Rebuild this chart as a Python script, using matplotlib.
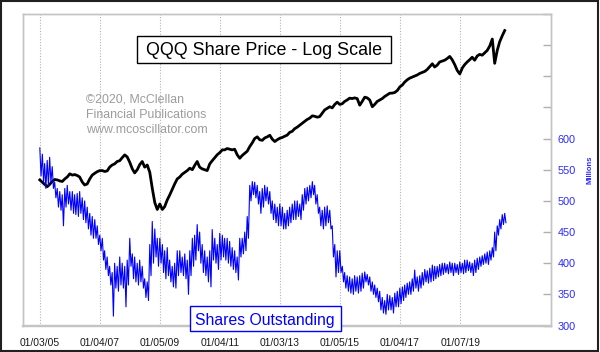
import matplotlib
matplotlib.use('Agg')
import matplotlib.pyplot as plt
import numpy as np
import pandas as pd
import matplotlib.dates as mdates
from matplotlib.patches import Rectangle
from matplotlib.ticker import NullLocator, FixedLocator

plt.rcParams['font.family'] = ['Liberation Sans', 'DejaVu Sans']

# ---------------- data (monthly, Jan 2005 .. Jul 2020) ----------------
start_month = '2005-01-01'

# QQQ share price (USD), monthly
price = [
    40, 38.8, 37.8, 36.7, 37.8, 39.2, 40.2, 40, 39.5, 39.2, 40.5, 41.5,          # 2005
    43.2, 42.5, 42.8, 42.3, 41.5, 39, 37.5, 38, 40.5, 42.5, 43.5, 44.4,          # 2006
    45, 45, 44.5, 44.8, 47, 48.3, 49, 50.5, 51, 53, 54.9, 53.5,                  # 2007
    50, 46, 43.7, 45.5, 48.5, 50.5, 47, 48.3, 44, 36, 30, 27.5,                  # 2008
    29.5, 27.5, 28.5, 31, 33, 35.5, 38, 40.5, 41.5, 43, 44, 45,                  # 2009
    46.4, 45.5, 48, 50.5, 47, 46, 45.5, 45, 49, 51, 53, 55,                      # 2010
    56.5, 58.5, 58.5, 59.5, 59, 58.5, 59, 55, 52.6, 54.5, 56, 57.5,              # 2011
    61, 64, 67.5, 69, 66.5, 66, 68, 69, 70.4, 67, 65, 66.5,                      # 2012
    67.8, 68.5, 69.5, 70.5, 73, 74, 76.5, 78, 80, 82, 84, 86,                    # 2013
    87.5, 90, 89.5, 88.5, 89.1, 93, 97, 99, 101, 99.5, 104, 107,                 # 2014
    104, 105, 108, 110, 112.6, 112, 113, 112, 103, 108, 114, 113,                # 2015
    110, 101, 104, 108, 110, 112, 115, 117.5, 119.9, 120, 121, 124,              # 2016
    129.8, 133, 138, 142, 145, 147, 149, 151, 154, 156, 158, 162,                # 2017
    168, 174, 167, 171, 178, 180, 182, 186, 191, 183, 172, 160,                  # 2018
    153, 165, 172, 178, 183, 189, 182, 192, 196, 194, 200, 206,                  # 2019
    218, 238, 175, 206, 230, 248, 265,                                           # 2020
]

# QQQ shares outstanding (millions): monthly high and low
shares_hi = [
    585, 575, 560, 565, 570, 555, 530, 520, 515, 510, 520, 525,   # 2005
    515, 515, 510, 512, 515, 505, 500, 490, 480, 475, 470, 460,   # 2006
    445, 440, 420, 410, 395, 385, 400, 395, 410, 400, 395, 405,   # 2007
    440, 415, 410, 400, 405, 395, 375, 370, 430, 467, 455, 440,   # 2008
    440, 430, 420, 425, 405, 395, 400, 420, 420, 410, 415, 405,   # 2009
    420, 440, 445, 462, 450, 430, 420, 410, 420, 454, 440, 430,   # 2010
    448, 445, 440, 440, 435, 425, 420, 410, 440, 440, 450, 475,   # 2011
    525, 531, 530, 525, 515, 520, 525, 522, 515, 500, 495, 490,   # 2012
    495, 490, 480, 485, 490, 495, 500, 500, 495, 510, 520, 522,   # 2013
    525, 531, 525, 510, 490, 485, 490, 492, 485, 460, 430, 420,   # 2014
    420, 395, 385, 380, 378, 375, 380, 378, 380, 384, 386, 382,   # 2015
    378, 370, 365, 360, 355, 345, 340, 350, 348, 345, 352, 355,   # 2016
    360, 362, 365, 368, 370, 375, 389, 378, 380, 385, 390, 388,   # 2017
    392, 397, 395, 395, 398, 400, 400, 398, 402, 400, 400, 398,   # 2018
    402, 400, 405, 405, 402, 400, 405, 408, 410, 412, 415, 418,   # 2019
    420, 425, 450, 460, 470, 478, 480,                            # 2020
]
shares_lo = [
    540, 530, 520, 525, 530, 520, 505, 490, 485, 460, 490, 495,   # 2005
    485, 480, 478, 475, 480, 470, 465, 455, 445, 440, 440, 430,   # 2006
    420, 405, 390, 380, 365, 315, 360, 355, 365, 360, 330, 365,   # 2007
    395, 375, 370, 365, 370, 360, 345, 340, 380, 400, 410, 395,   # 2008
    400, 385, 375, 380, 370, 362, 360, 380, 385, 380, 375, 350,   # 2009
    380, 395, 405, 420, 400, 385, 380, 370, 362, 405, 400, 390,   # 2010
    405, 410, 405, 400, 395, 390, 385, 373, 410, 415, 420, 440,   # 2011
    500, 510, 505, 495, 480, 490, 500, 495, 480, 470, 465, 460,   # 2012
    460, 455, 455, 460, 465, 470, 470, 475, 470, 485, 495, 500,   # 2013
    505, 510, 495, 480, 460, 455, 460, 465, 455, 410, 378, 385,   # 2014
    385, 370, 360, 355, 352, 350, 355, 352, 355, 360, 370, 365,   # 2015
    355, 350, 345, 338, 325, 320, 318, 325, 325, 320, 330, 330,   # 2016
    335, 340, 345, 350, 350, 355, 360, 355, 360, 365, 370, 368,   # 2017
    370, 372, 375, 378, 380, 382, 385, 383, 385, 380, 385, 382,   # 2018
    385, 383, 385, 388, 385, 380, 385, 390, 395, 398, 400, 398,   # 2019
    405, 410, 420, 445, 455, 462, 465,                            # 2020
]

tick_dates = ['2005-01-03', '2007-01-04', '2009-01-05', '2011-01-04',
              '2013-01-03', '2015-01-05', '2017-01-04', '2019-01-07']
tick_labels = ['01/03/05', '01/04/07', '01/05/09', '01/04/11',
               '01/03/13', '01/05/15', '01/04/17', '01/07/19']
share_ticks = [300, 350, 400, 450, 500, 550, 600, 650, 700, 750, 800]
share_tick_labels = ['300', '350', '400', '450', '500', '550', '600', '', '', '', '']

# ---------------- build series ----------------
months = pd.date_range(start_month, periods=len(price), freq='MS')
n = len(shares_hi)
sh_dates = np.empty(2 * n, dtype='datetime64[ns]')
sh_dates[0::2] = months[:n].values
sh_dates[1::2] = (months[:n] + pd.Timedelta(days=15)).values
sh_vals = np.empty(2 * n)
sh_vals[0::2] = shares_hi
sh_vals[1::2] = shares_lo

# ---------------- figure ----------------
W, H = 600, 352
fig = plt.figure(figsize=(W / 100, H / 100), dpi=100)
fig.patch.set_facecolor('white')

L, R, T, B = 23.3, 550.7, 14.0, 325.5
ax = fig.add_axes([L / W, (H - B) / H, (R - L) / W, (B - T) / H])
ax2 = ax.twinx()

# price (log) axis
ax.plot(months, price, color='black', lw=2.0, zorder=3)
ax.set_yscale('log')
ax.set_ylim(6.33, 326.8)
ax.yaxis.set_major_locator(NullLocator())
ax.yaxis.set_minor_locator(NullLocator())

# shares axis
ax2.plot(sh_dates, sh_vals, color='#0000ff', lw=0.8, zorder=2)
ax2.set_ylim(300, 800)
ax2.yaxis.set_major_locator(FixedLocator(share_ticks))
ax2.set_yticklabels(share_tick_labels)
ax2.tick_params(axis='y', direction='in', length=6, width=1, color='#b0b0b0',
                labelcolor='#2a2aff', labelsize=7.8, pad=5)

# x axis
xt = [mdates.date2num(pd.Timestamp(d)) for d in tick_dates]
ax.set_xlim(mdates.date2num(pd.Timestamp('2004-06-14')),
            mdates.date2num(pd.Timestamp('2022-01-12')))
ax.set_xticks(xt)
ax.set_xticklabels(tick_labels)
ax.tick_params(axis='x', length=0, labelsize=7.4, labelcolor='#1a1a1a', pad=9)
for x in xt:
    ax.axvline(x, color='#b4b4b4', lw=0.8, ls=(0, (1, 1.5)), zorder=1)

for a in (ax, ax2):
    for s in a.spines.values():
        s.set_color('#c4c4c4')
        s.set_linewidth(1.0)
ax.spines['bottom'].set_linewidth(1.6)
ax2.spines['bottom'].set_linewidth(1.6)

# ---------------- annotations ----------------
def px_rect(x0, y0, x1, y1, ec, lw):
    r = Rectangle((x0 / W, (H - y1) / H), (x1 - x0) / W, (y1 - y0) / H,
                  transform=fig.transFigure, facecolor='white', edgecolor=ec,
                  lw=lw, zorder=10)
    fig.add_artist(r)

px_rect(136.7, 36.0, 390.7, 63.3, 'black', 1.0)
fig.text(263.7 / W, (H - 55.0) / H, 'QQQ Share Price - Log Scale', fontsize=12.9,
         ha='center', va='baseline', color='black', zorder=11)

px_rect(190.0, 306.0, 340.7, 331.0, '#0000ff', 1.0)
fig.text(265.3 / W, (H - 325.0) / H, 'Shares Outstanding', fontsize=11.3,
         ha='center', va='baseline', color='#0000ff', zorder=11)

wm = ['\u00a92020, McClellan', 'Financial Publications', 'www.mcoscillator.com']
for i, line in enumerate(wm):
    fig.text(86 / W, (H - (103 + 15.2 * i)) / H, line, fontsize=8.9,
             ha='left', va='baseline', color='#9c9c9c', zorder=11)

fig.text(590 / W, (H - 170) / H, 'Millions', rotation=90, fontsize=5.5,
         fontweight='bold', color='#2a2aff', ha='center', va='center')

# outer frame
fig.add_artist(Rectangle((1 / W, 1.5 / H), 596.7 / W, 349.5 / H,
                         transform=fig.transFigure, fill=False,
                         edgecolor='#202020', lw=1.5, zorder=20))

fig.savefig('out.png', dpi=100)
